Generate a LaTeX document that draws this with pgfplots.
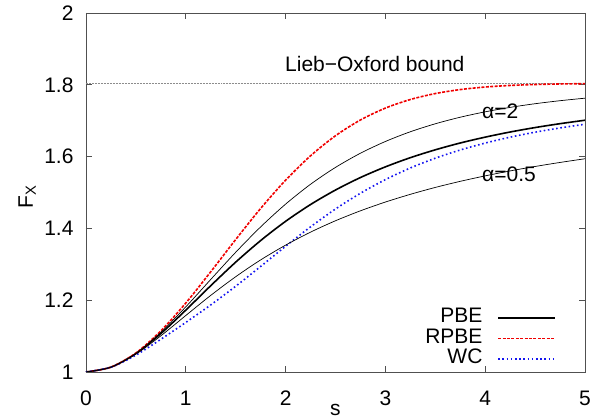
\documentclass[border=0pt]{standalone}
\usepackage{pgfplots}
\usepackage{pgfplotstable}
\pgfplotsset{compat=1.18}
\usepackage{fontspec}
\setmainfont{Liberation Sans}
\definecolor{axgray}{RGB}{80,80,80}
\definecolor{rpbered}{RGB}{240,0,0}
\definecolor{wcblue}{RGB}{20,20,240}
\pgfplotstableread{
s pbe rpbe wc a2 a05
0 1 1 1 1 1
0.25 1.0135 1.0136 1.0132 1.0135 1.0134
0.5 1.0514 1.0530 1.0471 1.0522 1.0498
0.75 1.1070 1.1145 1.0911 1.1106 1.1008
1 1.1724 1.1921 1.1381 1.1815 1.1574
1.25 1.2404 1.2792 1.1869 1.2578 1.2134
1.5 1.3060 1.3690 1.2389 1.3335 1.2654
1.75 1.3661 1.4556 1.2940 1.4042 1.3122
2 1.4197 1.5342 1.3502 1.4676 1.3534
2.25 1.4665 1.6022 1.4043 1.5229 1.3896
2.5 1.5069 1.6581 1.4540 1.5699 1.4213
2.75 1.5417 1.7020 1.4979 1.6094 1.4490
3 1.5714 1.7351 1.5359 1.6421 1.4734
3.25 1.5970 1.7590 1.5683 1.6692 1.4949
3.5 1.6189 1.7756 1.5955 1.6914 1.5141
3.75 1.6379 1.7867 1.6184 1.7097 1.5311
4 1.6542 1.7938 1.6377 1.7247 1.5463
4.25 1.6685 1.7982 1.6541 1.7371 1.5601
4.5 1.6809 1.8008 1.6680 1.7473 1.5725
4.75 1.6917 1.8023 1.6798 1.7557 1.5837
5 1.7013 1.8031 1.6901 1.7627 1.5940
}\datatable
\pgfplotstableread{
s lo
0 1.804
5 1.804
}\lotable
\begin{document}
\begin{tikzpicture}
\begin{axis}[
  scale only axis,
  width=499pt, height=359pt,
  xmin=0, xmax=5, ymin=1, ymax=2,
  xtick={0,1,2,3,4,5},
  ytick={1,1.2,1.4,1.6,1.8,2},
  tick align=inside,
  major tick length=6pt,
  axis line style={axgray, line width=0.8pt},
  tick style={axgray, line width=0.8pt},
  font=\fontsize{21}{25}\selectfont,
  /pgf/number format/assume math mode=true,
  ticklabel style={font=\fontsize{21}{25}\selectfont},
  xticklabel style={anchor=base, yshift=-34pt},
  yticklabel style={anchor=east, xshift=-9pt},
  xlabel={s},
  ylabel={F\textsubscript{X}},
  xlabel style={at={(axis description cs:0.5,0)}, anchor=base, yshift=-44pt},
  ylabel style={at={(axis description cs:-0.118,0.487)}, anchor=center},
  legend cell align=right,
  legend plot pos=right,
  legend style={draw=none, fill=none, at={(axis description cs:0.942,0.008)}, anchor=south east,
    inner sep=0pt, outer sep=0pt, row sep=0pt,
    nodes={inner sep=0pt, text height=15pt, text depth=5.5pt},
    /tikz/every odd column/.append style={column sep=15pt}},
  legend image code/.code={\draw[#1] (0pt,0pt) -- (57pt,0pt);},
  clip=true,
]
\addplot[forget plot, densely dotted, black!45, line width=0.5pt] table[x=s, y=lo] {\lotable};
\addplot[black, line width=1.6pt, smooth] table[x=s, y=pbe] {\datatable};
\addlegendentry{PBE}
\addplot[rpbered, line width=1.6pt, dash pattern=on 3pt off 1.4pt, smooth] table[x=s, y=rpbe] {\datatable};
\addlegendentry{RPBE}
\addplot[wcblue, line width=1.6pt, dash pattern=on 1.6pt off 2.6pt, smooth] table[x=s, y=wc] {\datatable};
\addlegendentry{WC}
\addplot[forget plot, black, line width=0.7pt, smooth] table[x=s, y=a2] {\datatable};
\addplot[forget plot, black, line width=0.7pt, smooth] table[x=s, y=a05] {\datatable};
\node[anchor=base west, inner sep=0pt] at (axis cs:1.994,1.8365) {Lieb−Oxford bound};
\node[anchor=base west, inner sep=0pt] at (axis cs:3.968,1.7075) {α=2};
\node[anchor=base west, inner sep=0pt] at (axis cs:3.968,1.530) {α=0.5};
\end{axis}
\path (current axis.south west) ++(-86pt,-48pt) rectangle ++(606pt,420pt);
\end{tikzpicture}
\end{document}
